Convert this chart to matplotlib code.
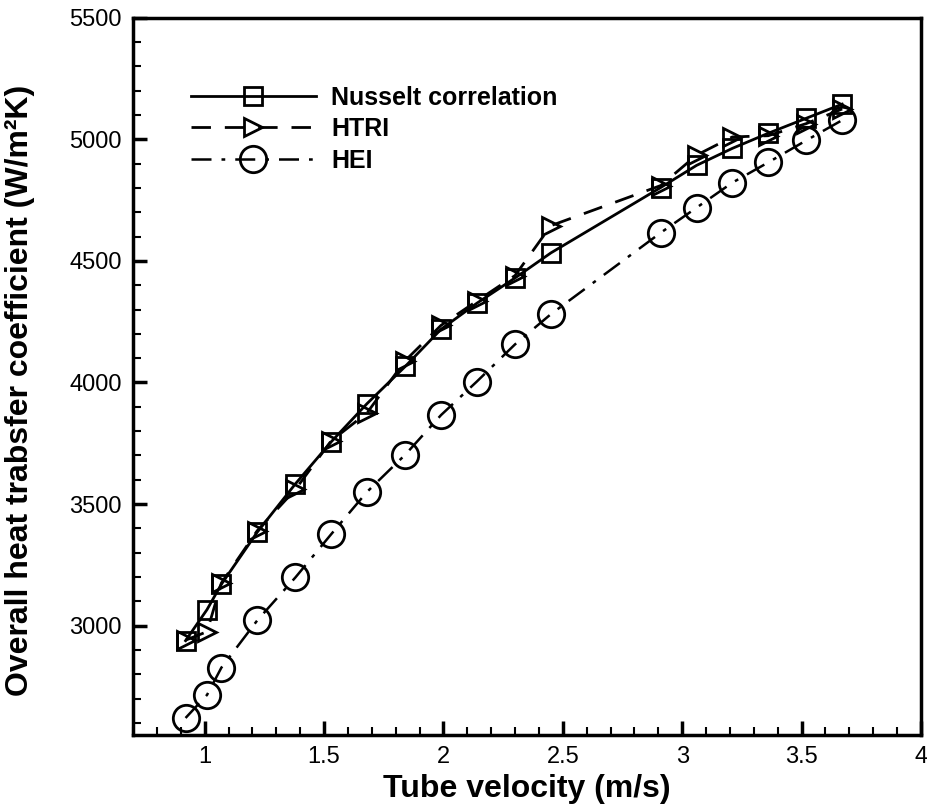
import matplotlib
matplotlib.use('Agg')
from matplotlib import pyplot as plt
from matplotlib.ticker import MultipleLocator

# tube velocity (m/s)
velocity = [0.92, 1.01, 1.07, 1.22, 1.38, 1.53, 1.68, 1.84, 1.99, 2.14,
            2.30, 2.45, 2.91, 3.06, 3.21, 3.36, 3.52, 3.67]

# overall heat transfer coefficient (W/m2K)
nusselt = [2938, 3066, 3170, 3384, 3583, 3756, 3913, 4066, 4219, 4326,
           4430, 4533, 4802, 4893, 4963, 5025, 5087, 5145]
htri = [2940, 2975, 3175, 3390, 3560, 3760, 3875, 4090, 4235, 4335,
        4440, 4645, 4810, 4935, 5010, 5015, 5065, 5125]
hei = [2620, 2715, 2827, 3021, 3198, 3376, 3550, 3703, 3866, 4004,
       4157, 4281, 4616, 4719, 4822, 4905, 4996, 5079]

plt.rcParams['font.family'] = ['Liberation Sans', 'DejaVu Sans']

fig = plt.figure(figsize=(9.27, 8.10), dpi=100)
ax = fig.add_axes([0.1435, 0.0926, 0.85, 0.8854])

ax.plot(velocity, nusselt, color='black', linestyle='-', linewidth=2,
        marker='s', markersize=13, markerfacecolor='none', markeredgewidth=2,
        label='Nusselt correlation')
ax.plot(velocity, htri, color='black', linestyle=(0, (7, 5)), linewidth=2,
        marker='>', markersize=13, markerfacecolor='none', markeredgewidth=2,
        label='HTRI')
ax.plot(velocity, hei, color='black', linestyle=(0, (8, 4, 1.5, 4)), linewidth=1.8,
        marker='o', markersize=19, markerfacecolor='none', markeredgewidth=2,
        label='HEI')

ax.set_xlim(0.7, 4.0)
ax.set_ylim(2550, 5500)
ax.xaxis.set_major_locator(MultipleLocator(0.5))
ax.xaxis.set_minor_locator(MultipleLocator(0.1))
ax.yaxis.set_major_locator(MultipleLocator(500))
ax.yaxis.set_minor_locator(MultipleLocator(100))
ax.set_xticks([1, 1.5, 2, 2.5, 3, 3.5, 4])
ax.set_xticklabels(['1', '1.5', '2', '2.5', '3', '3.5', '4'])

ax.tick_params(which='both', direction='in', top=False, right=False,
               labelsize=17, pad=8)
ax.tick_params(which='major', length=10, width=2.5)
ax.tick_params(which='minor', length=6, width=1.5)
for sp in ax.spines.values():
    sp.set_linewidth(2.5)

ax.set_xlabel('Tube velocity (m/s)', fontsize=23, fontweight='bold', labelpad=4)
ax.set_ylabel('Overall heat trabsfer coefficient (W/m\u00b2K)', fontsize=23,
              fontweight='bold', labelpad=14)
ax.yaxis.set_label_coords(-0.125, 0.48)

leg = ax.legend(loc='upper left', bbox_to_anchor=(0.045, 0.937), frameon=False,
                handlelength=5.0, handletextpad=0.6, labelspacing=0.3,
                prop={'weight': 'bold', 'size': 18})

fig.savefig('out.png', dpi=100)
